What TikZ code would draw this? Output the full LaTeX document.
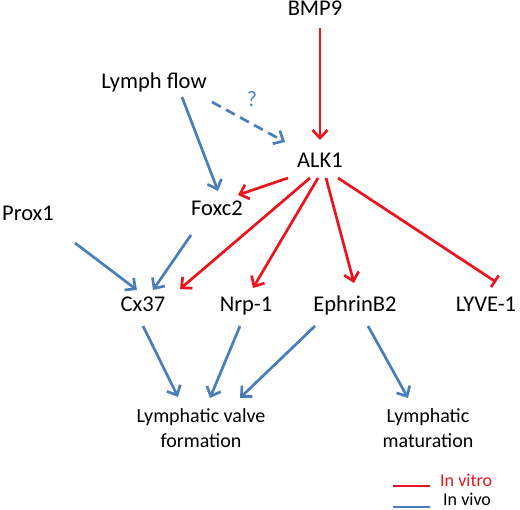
\documentclass[tikz,border=0pt]{standalone}
\usepackage{fontspec}
\setmainfont{Carlito}
\usetikzlibrary{arrows.meta}
\definecolor{myred}{RGB}{235,20,30}
\definecolor{myblue}{RGB}{74,126,187}
\tikzset{
  lbl/.style={inner sep=0pt, anchor=base, font=\fontsize{22.5}{26}\selectfont},
  outc/.style={inner sep=0pt, anchor=north, align=center, font=\fontsize{20}{25}\selectfont},
  leg/.style={inner sep=0pt, anchor=base west, font=\fontsize{18}{22}\selectfont},
  vitro/.style={draw=myred, line width=2.7pt, -{Straight Barb[length=8pt,width=15pt]}},
  vivo/.style={draw=myblue, line width=2.7pt, -{Straight Barb[length=8pt,width=15pt]}},
  inhib/.style={draw=myred, line width=2.7pt, -{Bar[width=14pt]}},
}
\begin{document}
\begin{tikzpicture}[x=1pt,y=-1pt]
\useasboundingbox (0,0) rectangle (520,510);
\node[lbl] (bmp) at (315,16) {BMP9};
\node[lbl] (lf) at (154,89) {Lymph flow};
\node[lbl, font=\fontsize{22}{26}\selectfont, text=myblue] (q) at (252,107) {?};
\node[lbl] (alk) at (320,168) {ALK1};
\node[lbl] (fox) at (217,216) {Foxc2};
\node[lbl] (prox) at (28,221) {Prox1};
\node[lbl] (cx) at (143,312) {Cx37};
\node[lbl] (nrp) at (246,312) {Nrp-1};
\node[lbl] (eph) at (355,312) {EphrinB2};
\node[lbl] (lyve) at (486,312) {LYVE-1};
\node[outc] (lvf) at (201,408) {Lymphatic valve\\formation};
\node[outc] (lm) at (428,408) {Lymphatic\\maturation};
% legend
\coordinate (r1) at (393,486);
\coordinate (r2) at (430,486);
\coordinate (b1) at (393,507);
\coordinate (b2) at (430,507);
\draw[myred, line width=2.7pt] (r1) -- (r2);
\draw[myblue, line width=2.7pt] (b1) -- (b2);
\node[leg, text=myred] (tvitro) at (440,487) {In vitro};
\node[leg] (tvivo) at (443,506) {In vivo};
% connectors
\draw[vitro] ([shift={(5,12)}]bmp.base) -- ([shift={(0,-28)}]alk.base);
\draw[vivo, dash pattern=on 10pt off 6pt] ([shift={(58,13)}]lf.base) -- ([shift={(-35,-26)}]alk.base);
\draw[vivo] ([shift={(28,8)}]lf.base) -- ([shift={(1,-25)}]fox.base);
\draw[vitro] ([shift={(-32,10)}]alk.base) -- ([shift={(21,-21)}]fox.base);
\draw[vitro] ([shift={(-10,10)}]alk.base) -- ([shift={(37,-23)}]cx.base);
\draw[vitro] ([shift={(-2,10)}]alk.base) -- ([shift={(7,-24)}]nrp.base);
\draw[vitro] ([shift={(6,10)}]alk.base) -- ([shift={(-1,-29)}]eph.base);
\draw[inhib] ([shift={(18,10)}]alk.base) -- ([shift={(10,-30)}]lyve.base);
\draw[vivo] ([shift={(47,22)}]prox.base) -- ([shift={(-6,-22)}]cx.base);
\draw[vivo] ([shift={(-26,19)}]fox.base) -- ([shift={(10,-22)}]cx.base);
\draw[vivo] ([shift={(0,14)}]cx.base) -- ([shift={(-23,-11)}]lvf.north);
\draw[vivo] ([shift={(-6,14)}]nrp.base) -- ([shift={(9,-10)}]lvf.north);
\draw[vivo] ([shift={(-40,14)}]eph.base) -- ([shift={(39,-10)}]lvf.north);
\draw[vivo] ([shift={(13,14)}]eph.base) -- ([shift={(-20,-10)}]lm.north);
\end{tikzpicture}
\end{document}
